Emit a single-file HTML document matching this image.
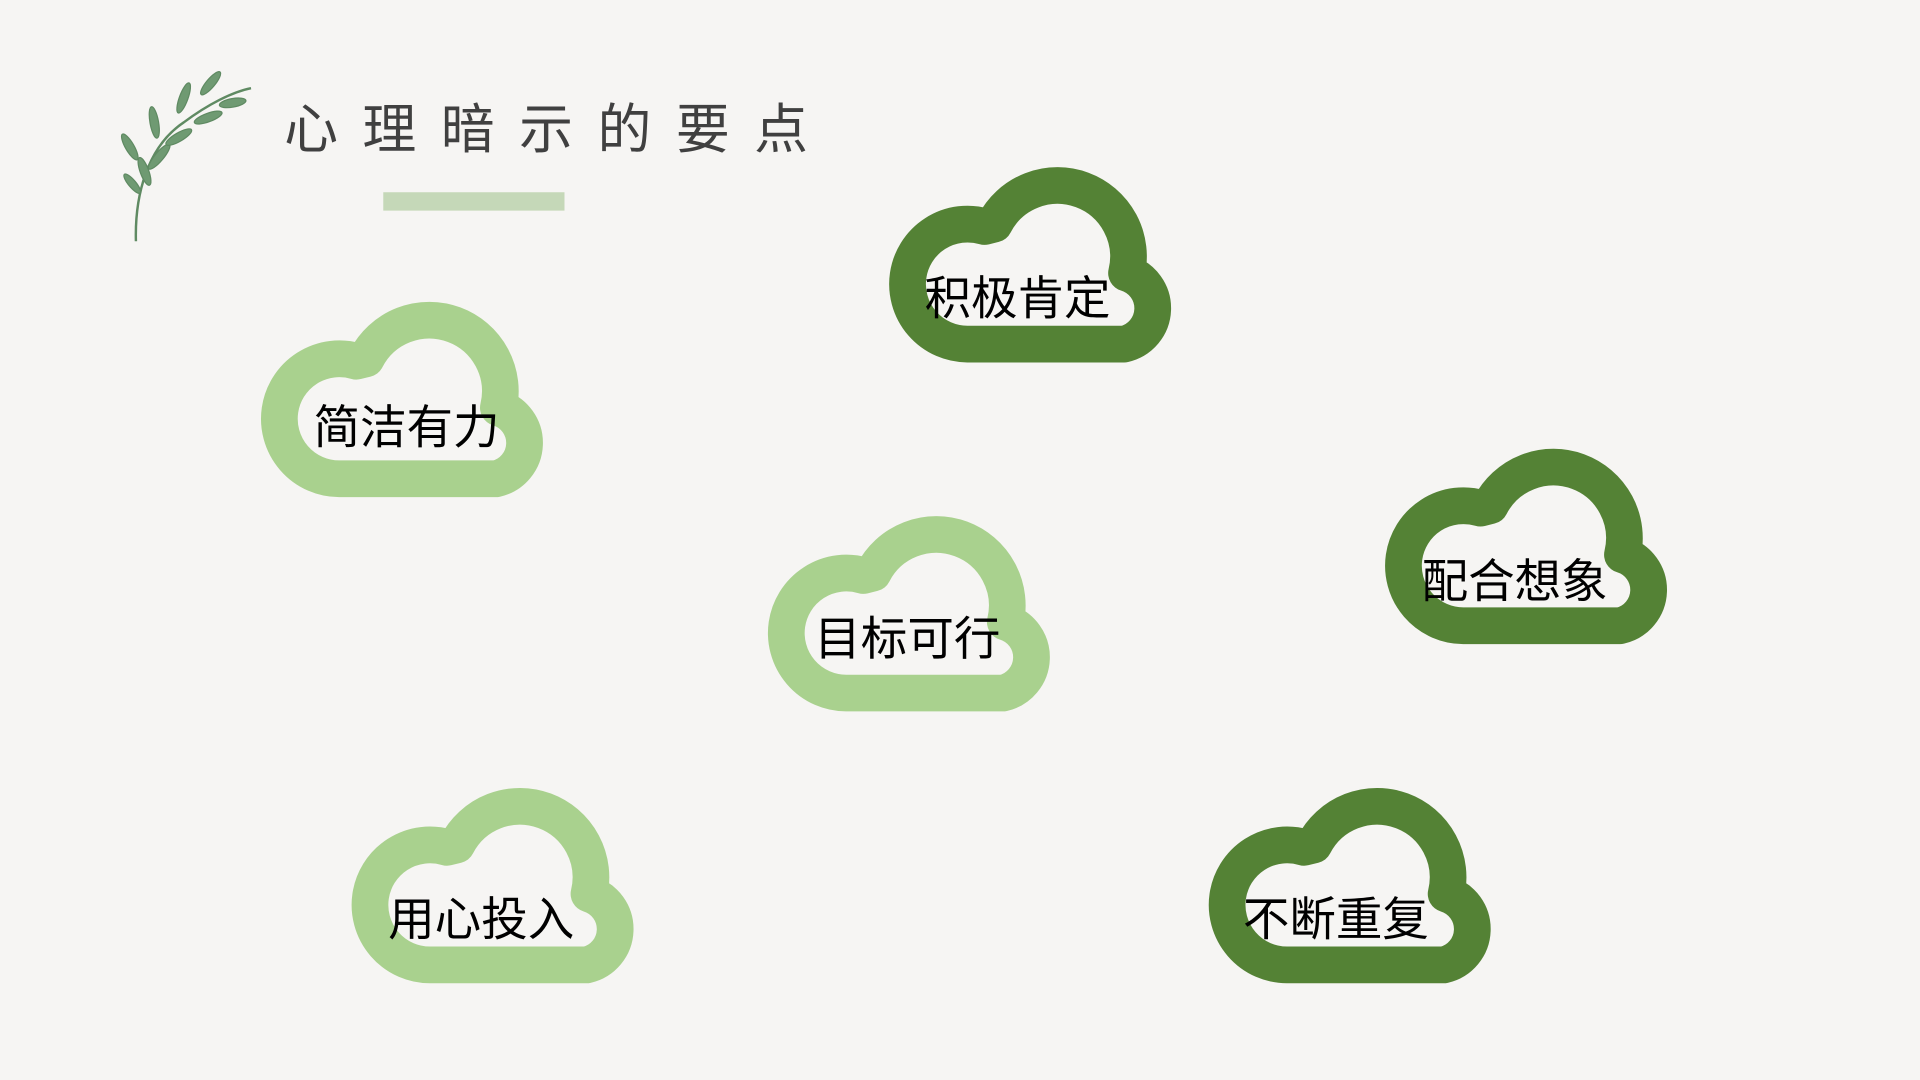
<!DOCTYPE html>
<html><head><meta charset="utf-8"><style>
html,body{margin:0;padding:0;background:#f6f5f3;width:1920px;height:1080px;overflow:hidden}
svg{display:block}
text{font-family:"Liberation Sans","Noto Sans CJK SC",sans-serif}
</style></head><body>
<svg width="1920" height="1080" viewBox="0 0 1568 882">
<rect width="1568" height="882" fill="#f6f5f3"/>
<defs>
<path id="cl" d="M64 142 A49 49 0 1 1 78 46 L86 44 A58 58 0 0 1 194 84 A30 30 0 0 1 192 142 Z" fill="none" stroke-width="30" stroke-linejoin="round"/>
</defs>
<!-- leaf -->
<g stroke="#5f8a62" fill="#6f9a72">
<path d="M111 197 C110 160 120 120 150 100 C170 85 190 75 205 72" fill="none" stroke-width="2"/>
<ellipse cx="118" cy="140" rx="3.5" ry="12" transform="rotate(-20 118 140)"/>
<ellipse cx="106" cy="120" rx="3.5" ry="12" transform="rotate(-30 106 120)"/>
<ellipse cx="130" cy="128" rx="3.5" ry="13" transform="rotate(40 130 128)"/>
<ellipse cx="126" cy="100" rx="3.5" ry="13" transform="rotate(-10 126 100)"/>
<ellipse cx="146" cy="112" rx="3.5" ry="12" transform="rotate(60 146 112)"/>
<ellipse cx="150" cy="80" rx="3.5" ry="13" transform="rotate(20 150 80)"/>
<ellipse cx="170" cy="96" rx="3.5" ry="12" transform="rotate(70 170 96)"/>
<ellipse cx="172" cy="68" rx="3.5" ry="12" transform="rotate(40 172 68)"/>
<ellipse cx="190" cy="84" rx="3.5" ry="11" transform="rotate(80 190 84)"/>
<ellipse cx="108" cy="150" rx="3" ry="10" transform="rotate(-40 108 150)"/>
</g>
<text x="232" y="121" font-size="44" fill="#404040" letter-spacing="20">心理暗示的要点</text>
<rect x="313" y="157" width="148" height="15" fill="#c5d8b8"/>

<g fill="#000" font-size="38">
<use href="#cl" stroke="#548235" transform="translate(726 139)"/>
<text x="755" y="257">积极肯定</text>
<use href="#cl" stroke="#a9d18e" transform="translate(213 249)"/>
<text x="256" y="362">简洁有力</text>
<use href="#cl" stroke="#a9d18e" transform="translate(627 424)"/>
<text x="665" y="535">目标可行</text>
<use href="#cl" stroke="#548235" transform="translate(1131 369)"/>
<text x="1161" y="488">配合想象</text>
<use href="#cl" stroke="#a9d18e" transform="translate(287 646)"/>
<text x="317" y="764">用心投入</text>
<use href="#cl" stroke="#548235" transform="translate(987 646)"/>
<text x="1015" y="764">不断重复</text>
</g>
</svg>
</body></html>
